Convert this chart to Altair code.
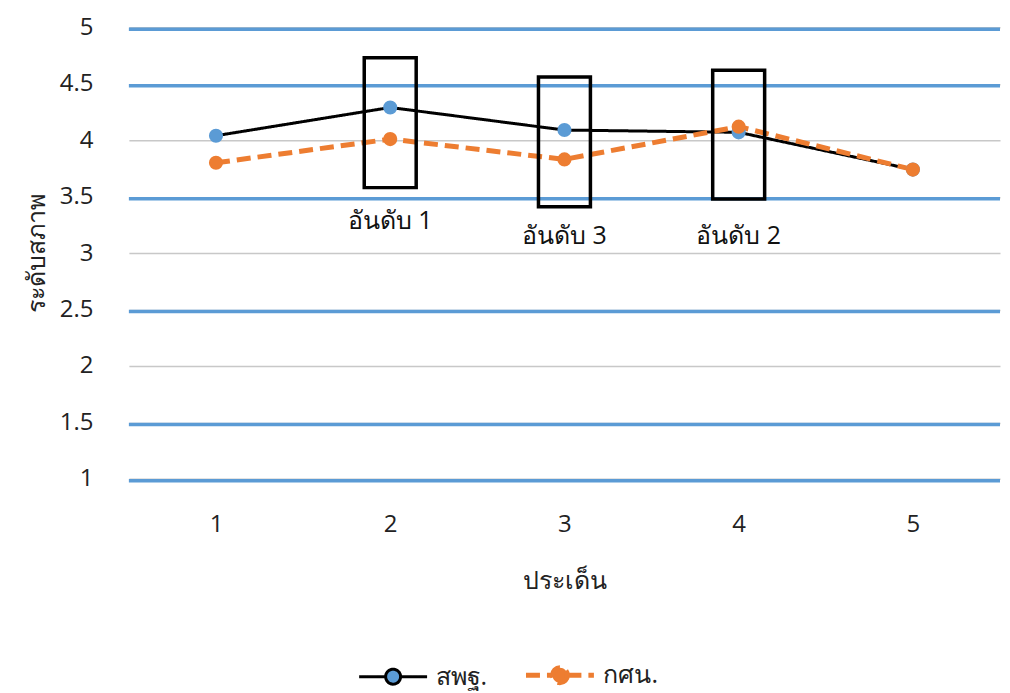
import altair as alt
import pandas as pd

issues = ["1", "2", "3", "4", "5"]
obec = [4.04, 4.29, 4.09, 4.07, 3.74]   # สพฐ.
nfe = [3.80, 4.01, 3.83, 4.12, 3.74]    # กศน.
series_names = ["สพฐ.", "กศน."]
y_ticks = [1, 1.5, 2, 2.5, 3, 3.5, 4, 4.5, 5]
blue_grid = [1, 1.5, 2.5, 3.5, 4.5, 5]
rank_issue = ["2", "3", "4"]
rank_label = ["อันดับ 1", "อันดับ 3", "อันดับ 2"]
box_top = [4.73, 4.56, 4.62]
box_bottom = [3.58, 3.41, 3.48]
label_y = [3.28, 3.15, 3.15]

FONT = "Open Sans"

df = pd.DataFrame({
    "issue": issues * 2,
    "value": obec + nfe,
    "series": [series_names[0]] * 5 + [series_names[1]] * 5,
})
df_grid = pd.DataFrame({"value": blue_grid})
df_box = pd.DataFrame({"issue": rank_issue, "top": box_top, "bottom": box_bottom,
                       "label": rank_label, "ly": label_y})

x_enc = alt.X("issue:O",
              scale=alt.Scale(type="point", padding=0.5, domain=issues),
              axis=alt.Axis(title="ประเด็น", labelAngle=0, ticks=False, domain=False,
                            grid=False, labelFontSize=24, labelPadding=34,
                            titleFontSize=25, titleFontWeight="normal", titlePadding=32,
                            labelColor="#222", titleColor="#222", labelFont=FONT, titleFont=FONT))
y_scale = alt.Scale(domain=[1, 5], nice=False, zero=False)
y_axis = alt.Axis(title="ระดับสภาพ", values=y_ticks, format="~g", ticks=False, domain=False,
                  grid=True, gridColor="#c8c8c8", gridWidth=1.5, labelFontSize=24,
                  labelPadding=36, titleFontSize=25, titleFontWeight="normal", titlePadding=10,
                  labelColor="#222", titleColor="#222", labelFont=FONT, titleFont=FONT)

color_scale = alt.Scale(domain=series_names, range=["#000000", "#ed7d31"])
fill_scale = alt.Scale(domain=series_names, range=["#5b9bd5", "#ed7d31"])
dash_scale = alt.Scale(domain=series_names, range=[[1, 0], [14, 7]])
width_scale = alt.Scale(domain=series_names, range=[3, 5])

base = alt.Chart(df)

grid_layer = alt.Chart(df_grid).mark_rule(color="#5b9bd5", strokeWidth=3.5, yOffset=2).encode(
    y=alt.Y("value:Q", scale=y_scale, axis=y_axis)
)

line_layer = base.mark_line().encode(
    x=x_enc,
    y=alt.Y("value:Q", scale=y_scale),
    color=alt.Color("series:N", scale=color_scale, sort=series_names, legend=alt.Legend(title=None)),
    strokeDash=alt.StrokeDash("series:N", scale=dash_scale, sort=series_names, legend=alt.Legend(title=None)),
    strokeWidth=alt.StrokeWidth("series:N", scale=width_scale, legend=None),
    order=alt.Order("issue:O"),
)

point_layer = base.mark_point(filled=True, size=200, opacity=1).encode(
    x=x_enc,
    y=alt.Y("value:Q", scale=y_scale),
    fill=alt.Fill("series:N", scale=fill_scale, sort=series_names, legend=alt.Legend(title=None)),
)

box_layer = alt.Chart(df_box).mark_bar(filled=False, stroke="black", strokeWidth=3.5,
                                       width=52, fill=None).encode(
    x=x_enc,
    y=alt.Y("top:Q", scale=y_scale),
    y2="bottom:Q",
)

text_layer = alt.Chart(df_box).mark_text(fontSize=25, font=FONT, color="#111").encode(
    x=x_enc,
    y=alt.Y("ly:Q", scale=y_scale),
    text="label:N",
)

legend_path = ("M-1,0 L-0.22,0 M0.22,0 L1,0 "
               "M0.22,0 A0.22,0.22 0 1,1 -0.22,0 A0.22,0.22 0 1,1 0.22,0 Z")

chart = alt.layer(grid_layer, line_layer, point_layer, box_layer, text_layer).properties(
    width=872, height=452, padding={"left": 16, "top": 7, "right": 0, "bottom": 0},
    background="white",
).configure_view(stroke=None).configure_legend(
    orient="none", legendX=229, legendY=612, direction="horizontal",
    symbolType=legend_path, symbolSize=4624, symbolStrokeWidth=4,
    labelFontSize=25, labelFont=FONT, labelColor="#222", labelOffset=7,
    columnPadding=28,
)

chart.save("out.html", embed_options={"renderer": "svg", "actions": False})
